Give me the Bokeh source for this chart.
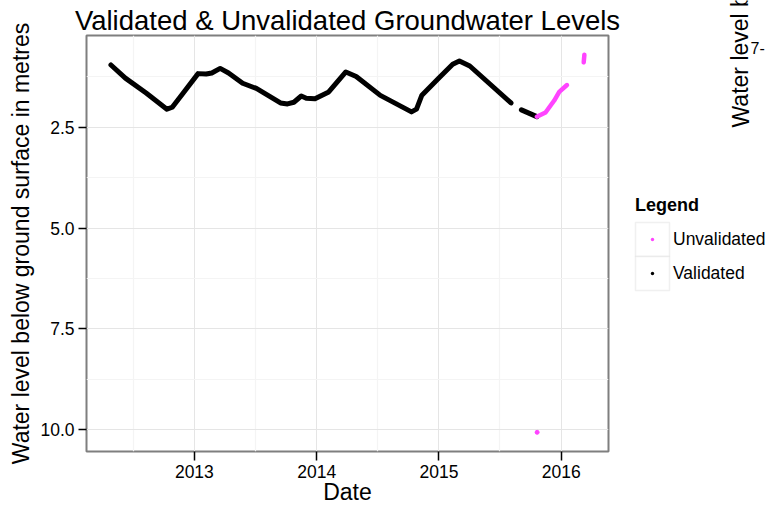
import pandas as pd
from bokeh.plotting import figure
from bokeh.layouts import row
from bokeh.models import (Range1d, FixedTicker, DatetimeTickFormatter, PrintfTickFormatter,
                          Legend, LegendItem, Label, ColumnDataSource, BoxAnnotation)
from bokeh.embed import file_html
from bokeh.resources import INLINE

# ---------------- data ----------------
validated_dates_1 = ["2012-04-27", "2012-06-09", "2012-08-10", "2012-10-11", "2012-10-27",
                     "2012-12-01", "2013-01-12", "2013-02-05", "2013-02-22", "2013-03-19",
                     "2013-04-13", "2013-05-25", "2013-07-05", "2013-09-15", "2013-10-06",
                     "2013-10-25", "2013-11-16", "2013-12-01", "2013-12-27", "2014-02-06",
                     "2014-03-29", "2014-04-29", "2014-07-10", "2014-10-11", "2014-10-26",
                     "2014-11-11", "2014-12-31", "2015-02-11", "2015-03-03", "2015-04-03",
                     "2015-08-04"]
validated_levels_1 = [0.955, 1.281, 1.650, 2.051, 2.003,
                      1.623, 1.169, 1.180, 1.152, 1.040,
                      1.152, 1.407, 1.537, 1.897, 1.921,
                      1.880, 1.725, 1.780, 1.792, 1.623,
                      1.127, 1.239, 1.708, 2.118, 2.051,
                      1.705, 1.281, 0.938, 0.854, 0.980,
                      1.897]
validated_dates_2 = ["2015-09-04", "2015-10-20"]
validated_levels_2 = [2.068, 2.237]

unvalidated_dates_1 = ["2015-10-20", "2015-11-15", "2015-12-11", "2015-12-26", "2016-01-18"]
unvalidated_levels_1 = [2.237, 2.135, 1.837, 1.623, 1.452]
unvalidated_dates_2 = ["2016-03-08", "2016-03-10"]
unvalidated_levels_2 = [0.89, 0.70]
unvalidated_outlier_dates = ["2015-10-21"]
unvalidated_outlier_levels = [10.07]

x_tick_years = ["2013-01-01", "2014-01-01", "2015-01-01", "2016-01-01"]
x_minor_ticks = ["2012-07-02", "2013-07-02", "2014-07-02", "2015-07-02"]
y_ticks = [2.5, 5.0, 7.5, 10.0]
y_minor_ticks = [1.25, 3.75, 6.25, 8.75]
legend_labels = ["Unvalidated", "Validated"]

VAL_COLOR = "black"
UNVAL_COLOR = "#ff44ff"
FONT = "Liberation Sans"


def ms(d):
    return pd.Timestamp(d).value // 10**6


def src(dates, levels):
    return ColumnDataSource(dict(date=pd.to_datetime(dates), level=levels))


# ======================= main panel =======================
p = figure(width=620, height=508, output_backend="svg", toolbar_location=None,
           x_axis_type="datetime",
           x_range=Range1d(pd.Timestamp("2012-02-14"), pd.Timestamp("2016-05-21")),
           y_range=Range1d(10.546, 0.223),
           min_border_left=86, min_border_right=12, min_border_top=35, min_border_bottom=57)
p.title.text = "Validated & Unvalidated Groundwater Levels"
p.title.align = "center"
p.title.text_font = FONT
p.title.text_font_style = "normal"
p.title.text_font_size = "27.5px"
p.title.text_color = "black"
p.title.standoff = 0
p.background_fill_color = "white"
p.border_fill_color = "white"
p.outline_line_color = "#7f7f7f"
p.outline_line_width = 2

for d, l in [(validated_dates_1, validated_levels_1), (validated_dates_2, validated_levels_2)]:
    p.line("date", "level", source=src(d, l), line_color=VAL_COLOR, line_width=5,
           line_join="round", line_cap="round")
for d, l in [(unvalidated_dates_1, unvalidated_levels_1), (unvalidated_dates_2, unvalidated_levels_2)]:
    p.line("date", "level", source=src(d, l), line_color=UNVAL_COLOR, line_width=4.5,
           line_join="round", line_cap="round")
p.scatter("date", "level", source=src(unvalidated_outlier_dates, unvalidated_outlier_levels),
          marker="circle", size=4, fill_color=UNVAL_COLOR, line_color=UNVAL_COLOR)

p.xaxis.ticker = FixedTicker(ticks=[ms(d) for d in x_tick_years],
                             minor_ticks=[ms(d) for d in x_minor_ticks])
p.xaxis.formatter = DatetimeTickFormatter(years="%Y", months="%Y", days="%Y", hours="%Y",
                                          minutes="%Y", seconds="%Y")
p.yaxis.ticker = FixedTicker(ticks=y_ticks, minor_ticks=y_minor_ticks)
p.yaxis.formatter = PrintfTickFormatter(format="%.1f")

for ax in (p.xaxis[0], p.yaxis[0]):
    ax.axis_line_color = None
    ax.major_tick_in = 0
    ax.major_tick_out = 8
    ax.major_tick_line_color = "black"
    ax.major_tick_line_width = 1.5
    ax.minor_tick_in = 0
    ax.minor_tick_out = 0
    ax.major_label_text_font = FONT
    ax.major_label_text_font_size = "17.5px"
    ax.major_label_text_color = "black"
    ax.axis_label_text_font = FONT
    ax.axis_label_text_font_style = "normal"
    ax.axis_label_text_color = "black"
    ax.axis_label_text_font_size = "23px"

p.xaxis.axis_label = "Date"
p.xaxis.major_tick_out = 9
p.xaxis.major_label_standoff = 4
p.xaxis.axis_label_standoff = -2
p.yaxis.axis_label = "Water level below ground surface in metres"
p.yaxis.major_label_standoff = 4
p.yaxis.axis_label_standoff = 3

for g in (p.xgrid[0], p.ygrid[0]):
    g.grid_line_color = "#e5e5e5"
    g.grid_line_width = 1
    g.minor_grid_line_color = "#f4f4f4"
    g.minor_grid_line_width = 1.2

# ======================= right strip: legend + neighbouring panel edge =======================
s = figure(width=148, height=508, output_backend="svg", toolbar_location=None,
           x_range=Range1d(0, 1), y_range=Range1d(0, 1),
           x_axis_location=None, y_axis_location=None,
           min_border=0, min_border_left=0, min_border_right=0,
           min_border_top=0, min_border_bottom=0)
if "frame_align" in s.properties():
    s.frame_align = False
if "frame_align" in p.properties():
    p.frame_align = False
s.title = None
s.outline_line_color = None
s.grid.visible = False
s.background_fill_color = "white"
s.border_fill_color = "white"

# ggplot-style legend key boxes (screen units of the strip)
for top in (508 - 222, 508 - 256):
    s.add_layout(BoxAnnotation(left=15, right=49, top=top, bottom=top - 34,
                               left_units="screen", right_units="screen",
                               top_units="screen", bottom_units="screen",
                               fill_color="white", fill_alpha=1,
                               line_color="#cccccc", line_width=1.5))

key_dots = []
for c in (UNVAL_COLOR, VAL_COLOR):
    key_dots.append(s.scatter(x=[float("nan")], y=[float("nan")], marker="dot", size=4,
                              fill_color=c, line_color=c))
legend = Legend(items=[LegendItem(label=legend_labels[i], renderers=[key_dots[i]])
                       for i in range(2)],
                title="Legend", location=(15, 218))
legend.title_text_font = FONT
legend.title_text_font_style = "bold"
legend.title_text_font_size = "18px"
legend.title_text_color = "black"
legend.title_standoff = 6
legend.label_text_font = FONT
legend.label_text_font_size = "17.5px"
legend.label_text_color = "black"
legend.glyph_width = 34
legend.glyph_height = 34
legend.label_height = 34
legend.spacing = 0
legend.label_standoff = 4
legend.padding = 0
legend.margin = 0
legend.border_line_color = None
legend.background_fill_alpha = 0
s.add_layout(legend)

s.add_layout(Label(x=120, y=381, x_units="screen", y_units="screen",
                   text="Water level below ground surface in metres", angle=1.5708,
                   text_align="left", text_baseline="alphabetic",
                   text_font=FONT, text_font_size="23px", text_color="black"))
s.add_layout(Label(x=130, y=461, x_units="screen", y_units="screen", text="7-",
                   text_align="left", text_baseline="alphabetic",
                   text_font=FONT, text_font_size="16px", text_color="black"))

layout = row(p, s, spacing=0)
open("out.html", "w").write(file_html(layout, INLINE))
